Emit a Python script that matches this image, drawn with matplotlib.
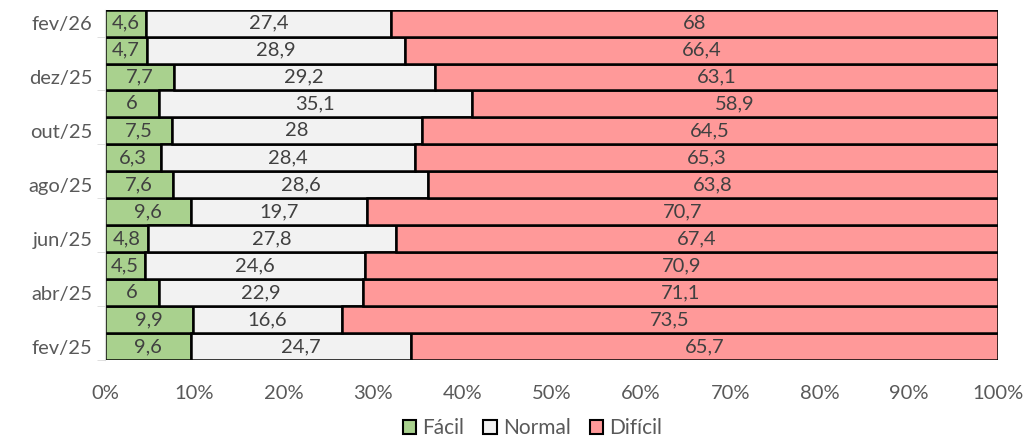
import numpy as np
import matplotlib.pyplot as plt
from matplotlib.patches import Patch

plt.rcParams['font.family'] = ['Lato', 'DejaVu Sans']

months = ['fev/25', 'mar/25', 'abr/25', 'mai/25', 'jun/25', 'jul/25', 'ago/25',
          'set/25', 'out/25', 'nov/25', 'dez/25', 'jan/26', 'fev/26']
facil = [9.6, 9.9, 6, 4.5, 4.8, 9.6, 7.6, 6.3, 7.5, 6, 7.7, 4.7, 4.6]
normal = [24.7, 16.6, 22.9, 24.6, 27.8, 19.7, 28.6, 28.4, 28, 35.1, 29.2, 28.9, 27.4]
dificil = [65.7, 73.5, 71.1, 70.9, 67.4, 70.7, 63.8, 65.3, 64.5, 58.9, 63.1, 66.4, 68]

series = [('Fácil', facil, '#a9d18e'), ('Normal', normal, '#f2f2f2'), ('Difícil', dificil, '#ff9999')]

fig = plt.figure(figsize=(10.3, 4.38), dpi=100)
ax = fig.add_axes([0.102, 0.178, 0.867, 0.8])

y = np.arange(len(months))
left = np.zeros(len(months))
for name, vals, col in series:
    vals = np.array(vals)
    bars = ax.barh(y, vals, left=left, height=1.0, color=col, edgecolor='black', linewidth=1.8, label=name)
    for yi, l, v in zip(y, left, vals):
        txt = ('%g' % v).replace('.', ',')
        ax.text(l + v / 2, yi, txt, ha='center', va='center', fontsize=14.5, color='#404040')
    left += vals

ax.set_xlim(0, 100)
ax.set_ylim(-0.5, 12.5)
ax.set_xticks(np.arange(0, 101, 10))
ax.set_xticklabels(['%d%%' % v for v in range(0, 101, 10)])
ax.set_yticks(y[::2])
ax.set_yticklabels(months[::2])
ax.set_yticks(np.arange(-0.5, 12, 2), minor=True)
ax.tick_params(axis='y', which='major', length=0, pad=9)
ax.tick_params(axis='y', which='minor', length=6, color='#d9d9d9')
ax.tick_params(axis='x', length=0, pad=18)
ax.tick_params(labelsize=14.5, labelcolor='#595959')
for s in ['top', 'right', 'bottom']:
    ax.spines[s].set_visible(False)
ax.spines['left'].set_color('#d9d9d9')

handles = [Patch(facecolor=c, edgecolor='black', linewidth=1.5, label=n) for n, _, c in series]
fig.legend(handles=handles, loc='center', bbox_to_anchor=(0.517, 0.022), ncol=3, frameon=False,
           fontsize=15, handlelength=0.65, handleheight=0.65, handletextpad=0.3, columnspacing=0.9,
           labelcolor='#595959', borderpad=0)

fig.savefig('out.png', dpi=100)
